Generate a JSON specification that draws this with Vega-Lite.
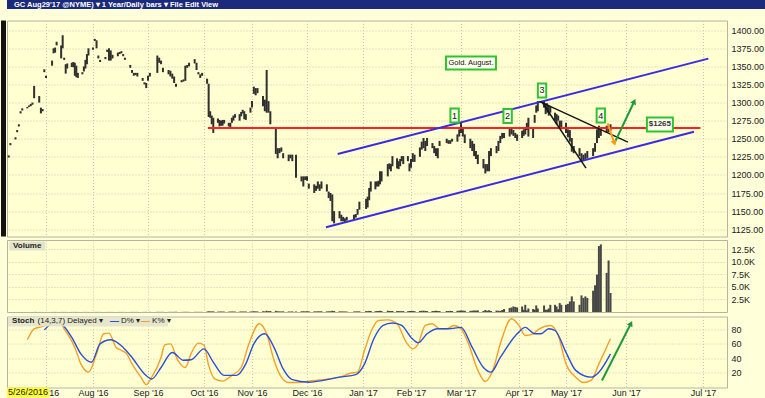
{
  "$schema": "https://vega.github.io/schema/vega-lite/v6.json",
  "background": "#FFFFDA",
  "padding": {"left": 0, "top": 0, "right": 0, "bottom": 0},
  "spacing": 10.5,
  "config": {
    "font": "Liberation Sans",
    "view": {"stroke": "#b5b59e", "fill": "#FFFFD2"},
    "axis": {"labelFont": "Liberation Sans", "labelFontSize": 9, "labelColor": "#1a1a1a", "gridColor": "#c8c8ae", "gridDash": [1, 2], "domain": false, "ticks": false, "title": null, "labelPadding": 4, "labelOverlap": false}
  },
  "datasets": {
    "px": [
      {"d":"2016-06-09","h":1227,"l":1224,"v":4},{"d":"2016-06-10","h":1244,"l":1241,"v":4},{"d":"2016-06-13","h":1252,"l":1249,"v":6},{"d":"2016-06-14","h":1262,"l":1259,"v":4},{"d":"2016-06-15","h":1270,"l":1267,"v":5},{"d":"2016-06-16","h":1288,"l":1285,"v":8},{"d":"2016-06-17","h":1292,"l":1289,"v":4},{"d":"2016-06-20","h":1294,"l":1292,"v":3},{"d":"2016-06-21","h":1296,"l":1294,"v":5},{"d":"2016-06-22","h":1298,"l":1295,"v":4},{"d":"2016-06-23","h":1300,"l":1297,"v":6},{"d":"2016-06-24","h":1323,"l":1306,"v":18},{"d":"2016-06-27","h":1309,"l":1300,"v":10},{"d":"2016-06-28","h":1293,"l":1285,"v":7},{"d":"2016-06-29","h":1291,"l":1288,"v":5},{"d":"2016-06-30","h":1346,"l":1342,"v":8},
      {"d":"2016-07-01","h":1337,"l":1334,"v":8},{"d":"2016-07-05","h":1358,"l":1351,"v":10},{"d":"2016-07-06","h":1375,"l":1368,"v":12},{"d":"2016-07-07","h":1376,"l":1369,"v":9},{"d":"2016-07-08","h":1384,"l":1379,"v":11},{"d":"2016-07-11","h":1379,"l":1361,"v":14},{"d":"2016-07-12","h":1393,"l":1375,"v":12},{"d":"2016-07-13","h":1362,"l":1359,"v":9},{"d":"2016-07-14","h":1353,"l":1340,"v":13},{"d":"2016-07-15","h":1354,"l":1347,"v":8},{"d":"2016-07-18","h":1355,"l":1349,"v":10},{"d":"2016-07-19","h":1356,"l":1349,"v":9},{"d":"2016-07-20","h":1355,"l":1337,"v":14},{"d":"2016-07-21","h":1351,"l":1335,"v":11},{"d":"2016-07-22","h":1341,"l":1334,"v":8},{"d":"2016-07-25","h":1342,"l":1339,"v":7},{"d":"2016-07-26","h":1350,"l":1343,"v":10},{"d":"2016-07-27","h":1359,"l":1347,"v":12},{"d":"2016-07-28","h":1367,"l":1353,"v":13},{"d":"2016-07-29","h":1375,"l":1365,"v":11},
      {"d":"2016-08-01","h":1376,"l":1373,"v":10},{"d":"2016-08-02","h":1388,"l":1385,"v":14},{"d":"2016-08-03","h":1386,"l":1375,"v":16},{"d":"2016-08-04","h":1365,"l":1361,"v":12},{"d":"2016-08-05","h":1359,"l":1356,"v":18},{"d":"2016-08-08","h":1363,"l":1360,"v":10},{"d":"2016-08-09","h":1373,"l":1370,"v":11},{"d":"2016-08-10","h":1375,"l":1358,"v":15},{"d":"2016-08-11","h":1372,"l":1358,"v":14},{"d":"2016-08-12","h":1366,"l":1361,"v":12},{"d":"2016-08-15","h":1369,"l":1364,"v":10},{"d":"2016-08-16","h":1370,"l":1367,"v":11},{"d":"2016-08-17","h":1371,"l":1368,"v":13},{"d":"2016-08-18","h":1367,"l":1364,"v":12},{"d":"2016-08-19","h":1362,"l":1359,"v":10},{"d":"2016-08-22","h":1352,"l":1348,"v":14},{"d":"2016-08-23","h":1345,"l":1341,"v":15},{"d":"2016-08-24","h":1341,"l":1337,"v":16},{"d":"2016-08-25","h":1341,"l":1338,"v":12},{"d":"2016-08-26","h":1341,"l":1336,"v":18},{"d":"2016-08-29","h":1334,"l":1330,"v":13},{"d":"2016-08-30","h":1328,"l":1325,"v":15},{"d":"2016-08-31","h":1327,"l":1320,"v":17},
      {"d":"2016-09-01","h":1337,"l":1330,"v":20},{"d":"2016-09-02","h":1341,"l":1336,"v":25},{"d":"2016-09-06","h":1365,"l":1341,"v":35},{"d":"2016-09-07","h":1362,"l":1355,"v":28},{"d":"2016-09-08","h":1358,"l":1353,"v":22},{"d":"2016-09-09","h":1348,"l":1342,"v":30},{"d":"2016-09-12","h":1345,"l":1339,"v":24},{"d":"2016-09-13","h":1344,"l":1336,"v":26},{"d":"2016-09-14","h":1340,"l":1333,"v":22},{"d":"2016-09-15","h":1336,"l":1327,"v":30},{"d":"2016-09-16","h":1326,"l":1322,"v":28},{"d":"2016-09-19","h":1331,"l":1328,"v":20},{"d":"2016-09-20","h":1332,"l":1329,"v":24},{"d":"2016-09-21","h":1351,"l":1330,"v":38},{"d":"2016-09-22","h":1352,"l":1348,"v":30},{"d":"2016-09-23","h":1355,"l":1350,"v":26},{"d":"2016-09-26","h":1360,"l":1354,"v":28},{"d":"2016-09-27","h":1355,"l":1345,"v":32},{"d":"2016-09-28","h":1342,"l":1339,"v":25},{"d":"2016-09-29","h":1339,"l":1334,"v":30},{"d":"2016-09-30","h":1341,"l":1337,"v":27},
      {"d":"2016-10-03","h":1333,"l":1326,"v":70},{"d":"2016-10-04","h":1326,"l":1280,"v":150},{"d":"2016-10-05","h":1288,"l":1279,"v":120},{"d":"2016-10-06","h":1282,"l":1270,"v":100},{"d":"2016-10-07","h":1279,"l":1258,"v":130},{"d":"2016-10-10","h":1278,"l":1272,"v":60},{"d":"2016-10-11","h":1276,"l":1267,"v":90},{"d":"2016-10-12","h":1275,"l":1268,"v":80},{"d":"2016-10-13","h":1276,"l":1268,"v":85},{"d":"2016-10-14","h":1276,"l":1271,"v":70},{"d":"2016-10-17","h":1272,"l":1267,"v":65},{"d":"2016-10-18","h":1272,"l":1266,"v":75},{"d":"2016-10-19","h":1279,"l":1272,"v":90},{"d":"2016-10-20","h":1282,"l":1275,"v":80},{"d":"2016-10-21","h":1284,"l":1279,"v":85},{"d":"2016-10-24","h":1284,"l":1275,"v":70},{"d":"2016-10-25","h":1287,"l":1281,"v":90},{"d":"2016-10-26","h":1290,"l":1285,"v":95},{"d":"2016-10-27","h":1288,"l":1277,"v":80},{"d":"2016-10-28","h":1284,"l":1276,"v":100},{"d":"2016-10-31","h":1293,"l":1286,"v":85},
      {"d":"2016-11-01","h":1302,"l":1293,"v":120},{"d":"2016-11-02","h":1322,"l":1312,"v":160},{"d":"2016-11-03","h":1320,"l":1310,"v":130},{"d":"2016-11-04","h":1320,"l":1313,"v":110},{"d":"2016-11-07","h":1309,"l":1295,"v":140},{"d":"2016-11-08","h":1304,"l":1288,"v":120},{"d":"2016-11-09","h":1345,"l":1286,"v":250},{"d":"2016-11-10","h":1302,"l":1286,"v":180},{"d":"2016-11-11","h":1288,"l":1270,"v":200},{"d":"2016-11-14","h":1265,"l":1229,"v":230},{"d":"2016-11-15","h":1237,"l":1223,"v":150},{"d":"2016-11-16","h":1237,"l":1230,"v":120},{"d":"2016-11-17","h":1238,"l":1232,"v":110},{"d":"2016-11-18","h":1230,"l":1223,"v":130},{"d":"2016-11-21","h":1228,"l":1219,"v":100},{"d":"2016-11-22","h":1228,"l":1223,"v":90},{"d":"2016-11-23","h":1228,"l":1219,"v":120},{"d":"2016-11-25","h":1228,"l":1196,"v":80},{"d":"2016-11-28","h":1198,"l":1191,"v":140},{"d":"2016-11-29","h":1198,"l":1184,"v":150},{"d":"2016-11-30","h":1198,"l":1193,"v":130},
      {"d":"2016-12-01","h":1198,"l":1192,"v":150},{"d":"2016-12-02","h":1188,"l":1181,"v":130},{"d":"2016-12-05","h":1187,"l":1175,"v":120},{"d":"2016-12-06","h":1185,"l":1178,"v":110},{"d":"2016-12-07","h":1191,"l":1181,"v":140},{"d":"2016-12-08","h":1187,"l":1178,"v":130},{"d":"2016-12-09","h":1191,"l":1181,"v":150},{"d":"2016-12-12","h":1187,"l":1177,"v":120},{"d":"2016-12-13","h":1177,"l":1168,"v":140},{"d":"2016-12-14","h":1175,"l":1164,"v":160},{"d":"2016-12-15","h":1173,"l":1136,"v":250},{"d":"2016-12-16","h":1150,"l":1133,"v":200},{"d":"2016-12-19","h":1150,"l":1140,"v":130},{"d":"2016-12-20","h":1145,"l":1136,"v":120},{"d":"2016-12-21","h":1142,"l":1136,"v":110},{"d":"2016-12-22","h":1140,"l":1135,"v":100},{"d":"2016-12-23","h":1142,"l":1137,"v":90},{"d":"2016-12-27","h":1145,"l":1139,"v":100},{"d":"2016-12-28","h":1146,"l":1141,"v":120},{"d":"2016-12-29","h":1153,"l":1145,"v":140},{"d":"2016-12-30","h":1163,"l":1152,"v":130},
      {"d":"2017-01-03","h":1167,"l":1153,"v":180},{"d":"2017-01-04","h":1170,"l":1155,"v":160},{"d":"2017-01-05","h":1182,"l":1165,"v":220},{"d":"2017-01-06","h":1191,"l":1177,"v":200},{"d":"2017-01-09","h":1191,"l":1180,"v":150},{"d":"2017-01-10","h":1191,"l":1184,"v":170},{"d":"2017-01-11","h":1192,"l":1184,"v":190},{"d":"2017-01-12","h":1205,"l":1187,"v":240},{"d":"2017-01-13","h":1205,"l":1191,"v":180},{"d":"2017-01-17","h":1215,"l":1198,"v":260},{"d":"2017-01-18","h":1216,"l":1208,"v":200},{"d":"2017-01-19","h":1215,"l":1205,"v":190},{"d":"2017-01-20","h":1226,"l":1212,"v":210},{"d":"2017-01-23","h":1223,"l":1209,"v":180},{"d":"2017-01-24","h":1219,"l":1208,"v":170},{"d":"2017-01-25","h":1222,"l":1212,"v":160},{"d":"2017-01-26","h":1226,"l":1219,"v":150},{"d":"2017-01-27","h":1226,"l":1215,"v":180},{"d":"2017-01-30","h":1226,"l":1219,"v":140},{"d":"2017-01-31","h":1216,"l":1205,"v":200},
      {"d":"2017-02-01","h":1222,"l":1210,"v":180},{"d":"2017-02-02","h":1230,"l":1218,"v":220},{"d":"2017-02-03","h":1228,"l":1218,"v":170},{"d":"2017-02-06","h":1238,"l":1225,"v":200},{"d":"2017-02-07","h":1246,"l":1235,"v":240},{"d":"2017-02-08","h":1251,"l":1237,"v":260},{"d":"2017-02-09","h":1247,"l":1233,"v":220},{"d":"2017-02-10","h":1251,"l":1240,"v":190},{"d":"2017-02-13","h":1244,"l":1237,"v":180},{"d":"2017-02-14","h":1240,"l":1230,"v":210},{"d":"2017-02-15","h":1237,"l":1226,"v":230},{"d":"2017-02-16","h":1237,"l":1223,"v":200},{"d":"2017-02-17","h":1247,"l":1240,"v":180},{"d":"2017-02-21","h":1250,"l":1244,"v":210},{"d":"2017-02-22","h":1248,"l":1243,"v":190},{"d":"2017-02-23","h":1248,"l":1243,"v":220},{"d":"2017-02-24","h":1250,"l":1246,"v":200},{"d":"2017-02-27","h":1256,"l":1246,"v":240},{"d":"2017-02-28","h":1263,"l":1253,"v":260},
      {"d":"2017-03-01","h":1272,"l":1258,"v":300},{"d":"2017-03-02","h":1265,"l":1253,"v":280},{"d":"2017-03-03","h":1256,"l":1244,"v":250},{"d":"2017-03-06","h":1250,"l":1237,"v":220},{"d":"2017-03-07","h":1247,"l":1233,"v":260},{"d":"2017-03-08","h":1243,"l":1226,"v":300},{"d":"2017-03-09","h":1233,"l":1222,"v":280},{"d":"2017-03-10","h":1228,"l":1215,"v":320},{"d":"2017-03-13","h":1222,"l":1209,"v":200},{"d":"2017-03-14","h":1215,"l":1202,"v":400},{"d":"2017-03-15","h":1215,"l":1205,"v":250},{"d":"2017-03-16","h":1233,"l":1205,"v":350},{"d":"2017-03-17","h":1237,"l":1226,"v":200},{"d":"2017-03-20","h":1240,"l":1230,"v":280},{"d":"2017-03-21","h":1247,"l":1233,"v":260},{"d":"2017-03-22","h":1254,"l":1244,"v":220},{"d":"2017-03-23","h":1258,"l":1250,"v":400},{"d":"2017-03-24","h":1258,"l":1251,"v":600},{"d":"2017-03-27","h":1265,"l":1253,"v":800},{"d":"2017-03-28","h":1265,"l":1256,"v":900},{"d":"2017-03-29","h":1262,"l":1254,"v":1100},{"d":"2017-03-30","h":1258,"l":1251,"v":1000},{"d":"2017-03-31","h":1256,"l":1247,"v":900},
      {"d":"2017-04-03","h":1261,"l":1251,"v":1100},{"d":"2017-04-04","h":1263,"l":1254,"v":430},{"d":"2017-04-05","h":1265,"l":1256,"v":1430},{"d":"2017-04-06","h":1272,"l":1262,"v":300},{"d":"2017-04-07","h":1279,"l":1253,"v":700},{"d":"2017-04-10","h":1265,"l":1251,"v":600},{"d":"2017-04-11","h":1283,"l":1272,"v":450},{"d":"2017-04-12","h":1296,"l":1286,"v":1300},{"d":"2017-04-13","h":1302,"l":1288,"v":700},{"d":"2017-04-17","h":1302,"l":1293,"v":1300},{"d":"2017-04-18","h":1299,"l":1284,"v":450},{"d":"2017-04-19","h":1299,"l":1286,"v":450},{"d":"2017-04-20","h":1296,"l":1282,"v":700},{"d":"2017-04-21","h":1294,"l":1286,"v":1430},{"d":"2017-04-24","h":1286,"l":1275,"v":1430},{"d":"2017-04-25","h":1284,"l":1270,"v":1100},{"d":"2017-04-26","h":1282,"l":1275,"v":550},{"d":"2017-04-27","h":1275,"l":1265,"v":1770},{"d":"2017-04-28","h":1275,"l":1263,"v":1430},
      {"d":"2017-05-01","h":1272,"l":1258,"v":1430},{"d":"2017-05-02","h":1263,"l":1252,"v":1600},{"d":"2017-05-03","h":1262,"l":1246,"v":2100},{"d":"2017-05-04","h":1251,"l":1232,"v":3100},{"d":"2017-05-05","h":1240,"l":1230,"v":2100},{"d":"2017-05-08","h":1237,"l":1226,"v":1430},{"d":"2017-05-09","h":1230,"l":1219,"v":3300},{"d":"2017-05-10","h":1228,"l":1219,"v":2800},{"d":"2017-05-11","h":1230,"l":1222,"v":3100},{"d":"2017-05-12","h":1233,"l":1223,"v":2800},{"d":"2017-05-15","h":1237,"l":1226,"v":4230},{"d":"2017-05-16","h":1244,"l":1232,"v":5300},{"d":"2017-05-17","h":1263,"l":1244,"v":7430},{"d":"2017-05-18","h":1268,"l":1251,"v":13100},{"d":"2017-05-19","h":1265,"l":1254,"v":13430},{"d":"2017-05-22","h":1268,"l":1258,"v":7770},{"d":"2017-05-23","h":1268,"l":1259,"v":10230},{"d":"2017-05-24","h":1270,"l":1261,"v":3770}
    ],
    "st": [
      {"d":"2016-06-20","s":"K","val":65.6},{"d":"2016-06-24","s":"K","val":81},{"d":"2016-06-30","s":"K","val":85},{"d":"2016-07-07","s":"K","val":96},{"d":"2016-07-13","s":"K","val":81},{"d":"2016-07-20","s":"K","val":55},{"d":"2016-07-24","s":"K","val":32},{"d":"2016-07-29","s":"K","val":20.5},{"d":"2016-08-03","s":"K","val":46},{"d":"2016-08-07","s":"K","val":74},{"d":"2016-08-10","s":"K","val":75},{"d":"2016-08-14","s":"K","val":55},{"d":"2016-08-17","s":"K","val":51},{"d":"2016-08-20","s":"K","val":46},{"d":"2016-08-23","s":"K","val":32},{"d":"2016-08-28","s":"K","val":13.5},{"d":"2016-08-31","s":"K","val":3},{"d":"2016-09-03","s":"K","val":13.5},{"d":"2016-09-08","s":"K","val":41},{"d":"2016-09-10","s":"K","val":58.6},{"d":"2016-09-13","s":"K","val":60},{"d":"2016-09-17","s":"K","val":37},{"d":"2016-09-21","s":"K","val":27},{"d":"2016-09-24","s":"K","val":46},{"d":"2016-09-28","s":"K","val":61},{"d":"2016-10-01","s":"K","val":58},{"d":"2016-10-04","s":"K","val":30},{"d":"2016-10-08","s":"K","val":11},{"d":"2016-10-13","s":"K","val":8},{"d":"2016-10-19","s":"K","val":16},{"d":"2016-10-25","s":"K","val":27},{"d":"2016-10-30","s":"K","val":60},{"d":"2016-11-05","s":"K","val":88},{"d":"2016-11-09","s":"K","val":74},{"d":"2016-11-13","s":"K","val":37},{"d":"2016-11-17","s":"K","val":13.5},{"d":"2016-11-21","s":"K","val":6},{"d":"2016-11-26","s":"K","val":6},{"d":"2016-12-02","s":"K","val":8},{"d":"2016-12-10","s":"K","val":10},{"d":"2016-12-19","s":"K","val":13.5},{"d":"2016-12-25","s":"K","val":19},{"d":"2016-12-29","s":"K","val":20.5},{"d":"2017-01-02","s":"K","val":51},{"d":"2017-01-07","s":"K","val":81},{"d":"2017-01-11","s":"K","val":92.5},{"d":"2017-01-17","s":"K","val":93.5},{"d":"2017-01-23","s":"K","val":88},{"d":"2017-01-29","s":"K","val":62},{"d":"2017-02-02","s":"K","val":53},{"d":"2017-02-05","s":"K","val":60},{"d":"2017-02-09","s":"K","val":85.6},{"d":"2017-02-13","s":"K","val":88},{"d":"2017-02-17","s":"K","val":81},{"d":"2017-02-21","s":"K","val":81},{"d":"2017-02-25","s":"K","val":85.6},{"d":"2017-03-01","s":"K","val":81},{"d":"2017-03-05","s":"K","val":60},{"d":"2017-03-10","s":"K","val":23},{"d":"2017-03-14","s":"K","val":7.4},{"d":"2017-03-18","s":"K","val":23},{"d":"2017-03-22","s":"K","val":60},{"d":"2017-03-28","s":"K","val":95},{"d":"2017-04-01","s":"K","val":85.6},{"d":"2017-04-05","s":"K","val":71.6},{"d":"2017-04-10","s":"K","val":74},{"d":"2017-04-14","s":"K","val":81},{"d":"2017-04-21","s":"K","val":85.6},{"d":"2017-04-26","s":"K","val":71.6},{"d":"2017-05-01","s":"K","val":32},{"d":"2017-05-06","s":"K","val":13.5},{"d":"2017-05-10","s":"K","val":6},{"d":"2017-05-14","s":"K","val":9},{"d":"2017-05-18","s":"K","val":32},{"d":"2017-05-24","s":"K","val":67},
      {"d":"2016-06-30","s":"D","val":79.5},{"d":"2016-07-07","s":"D","val":90},{"d":"2016-07-11","s":"D","val":88},{"d":"2016-07-18","s":"D","val":69},{"d":"2016-07-24","s":"D","val":46},{"d":"2016-07-31","s":"D","val":34.4},{"d":"2016-08-05","s":"D","val":60},{"d":"2016-08-11","s":"D","val":65.6},{"d":"2016-08-18","s":"D","val":55},{"d":"2016-08-23","s":"D","val":41},{"d":"2016-08-30","s":"D","val":18},{"d":"2016-09-03","s":"D","val":11},{"d":"2016-09-08","s":"D","val":27},{"d":"2016-09-14","s":"D","val":48},{"d":"2016-09-20","s":"D","val":37},{"d":"2016-09-24","s":"D","val":37.7},{"d":"2016-10-01","s":"D","val":53},{"d":"2016-10-07","s":"D","val":34.4},{"d":"2016-10-14","s":"D","val":16},{"d":"2016-10-22","s":"D","val":16},{"d":"2016-10-28","s":"D","val":32},{"d":"2016-11-02","s":"D","val":60},{"d":"2016-11-08","s":"D","val":74},{"d":"2016-11-13","s":"D","val":55},{"d":"2016-11-18","s":"D","val":25},{"d":"2016-11-23","s":"D","val":10},{"d":"2016-12-02","s":"D","val":6.5},{"d":"2016-12-10","s":"D","val":9},{"d":"2016-12-19","s":"D","val":13.5},{"d":"2016-12-28","s":"D","val":17},{"d":"2017-01-02","s":"D","val":32},{"d":"2017-01-08","s":"D","val":67},{"d":"2017-01-14","s":"D","val":85.6},{"d":"2017-01-20","s":"D","val":89},{"d":"2017-01-26","s":"D","val":85.6},{"d":"2017-02-01","s":"D","val":69},{"d":"2017-02-05","s":"D","val":61.4},{"d":"2017-02-10","s":"D","val":74},{"d":"2017-02-16","s":"D","val":81},{"d":"2017-02-22","s":"D","val":81},{"d":"2017-03-01","s":"D","val":83},{"d":"2017-03-07","s":"D","val":55},{"d":"2017-03-13","s":"D","val":27},{"d":"2017-03-17","s":"D","val":20.5},{"d":"2017-03-22","s":"D","val":41},{"d":"2017-03-31","s":"D","val":74},{"d":"2017-04-05","s":"D","val":83},{"d":"2017-04-11","s":"D","val":74},{"d":"2017-04-15","s":"D","val":74},{"d":"2017-04-20","s":"D","val":81},{"d":"2017-04-24","s":"D","val":78.6},{"d":"2017-05-01","s":"D","val":48},{"d":"2017-05-06","s":"D","val":23},{"d":"2017-05-14","s":"D","val":13.5},{"d":"2017-05-18","s":"D","val":20.5},{"d":"2017-05-24","s":"D","val":46}
    ],
    "seg": [
      {"g":"red","d":"2016-10-03T12:00Z","p":1265},{"g":"red","d":"2017-06-30T00:00Z","p":1265},
      {"g":"up","d":"2016-12-18T00:00Z","p":1228.8},{"g":"up","d":"2017-07-03T00:00Z","p":1360.7},
      {"g":"lo","d":"2016-12-11T12:00Z","p":1127.8},{"g":"lo","d":"2017-06-27T12:00Z","p":1259.7},
      {"g":"or","d":"2017-05-22T12:00Z","p":1271.4},{"g":"or","d":"2017-05-26T00:00Z","p":1243.8},
      {"g":"gr","d":"2017-05-26T00:00Z","p":1243.8},{"g":"gr","d":"2017-06-04T05:00Z","p":1301.5},
      {"g":"b1","d":"2017-04-14T00:00Z","p":1301.7},{"g":"b1","d":"2017-06-01T18:00Z","p":1245.4},
      {"g":"b2","d":"2017-04-15T17:00Z","p":1300.8},{"g":"b2","d":"2017-05-11T08:00Z","p":1209.3}
    ],
    "box": [
      {"k":"n","d":"2017-02-25T10:00Z","p":1282.1,"t":"1"},
      {"k":"n","d":"2017-03-25T22:00Z","p":1281.4,"t":"2"},
      {"k":"n","d":"2017-04-15T17:00Z","p":1316.7,"t":"3"},
      {"k":"n","d":"2017-05-19T00:00Z","p":1282.1,"t":"4"},
      {"k":"g","d":"2017-03-06T08:00Z","p":1354.7,"t":"Gold. August."},
      {"k":"p","d":"2017-06-14T05:00Z","p":1269.7,"t":"$1265"}
    ],
    "sarrow": [
      {"d":"2017-05-19T14:00Z","val":8.9},{"d":"2017-06-02T22:00Z","val":88.4}
    ],
    "leg": [
      {"d":"2016-06-11T00:00Z","val":91.4,"t":"Stoch","c":"t"},
      {"d":"2016-06-26T00:00Z","val":91.4,"t":"(14,3,7) Delayed ▾","c":"x"},
      {"d":"2016-08-10T14:00Z","val":91.4,"t":"—","c":"D"},
      {"d":"2016-08-16T19:00Z","val":91.4,"t":"D% ▾","c":"x"},
      {"d":"2016-08-28T00:00Z","val":91.4,"t":"—","c":"K"},
      {"d":"2016-09-03T05:00Z","val":91.4,"t":"K% ▾","c":"x"}
    ]
  },
  "vconcat": [
    {
      "width": 759,
      "height": 9,
      "view": {"fill": "#1c2a7c", "stroke": null},
      "data": {"values": [{"t": "GC Aug29'17 @NYME) ▾  1 Year/Daily bars ▾  File  Edit  View"}]},
      "mark": {"type": "text", "align": "left", "baseline": "middle", "color": "#ffffff", "fontWeight": "bold", "fontSize": 7.5, "dx": 7},
      "encoding": {
        "text": {"field": "t"},
        "x": {"datum": 0, "type": "quantitative", "scale": {"domain": [0, 1]}, "axis": null}
      }
    },
    {
      "spacing": 1.5,
      "vconcat": [
        {
          "width": 720,
          "height": 216,
          "encoding": {
            "x": {"field": "d", "type": "quantitative",
              "scale": {"nice": false, "zero": false,
                "domain": [1465344000000, 1467331200000, 1470009600000, 1472688000000, 1475280000000, 1477958400000, 1480550400000, 1483228800000, 1485907200000, 1488326400000, 1491004800000, 1493596800000, 1496275200000, 1498867200000, 1499644800000],
                "range": [0, 39, 86, 141, 197, 245, 300, 356, 404, 454, 512, 559, 619, 696, 720]},
              "axis": {"values": [1467331200000, 1470009600000, 1472688000000, 1475280000000, 1477958400000, 1480550400000, 1483228800000, 1485907200000, 1488326400000, 1491004800000, 1493596800000, 1496275200000, 1498867200000], "tickCount": 30, "labels": false, "grid": true, "minExtent": 0, "maxExtent": 0}}
          },
          "layer": [
            {
              "data": {"name": "px", "format": {"parse": {"d": "date"}}},
              "mark": {"type": "rule", "strokeWidth": 2, "color": "#303030"},
              "encoding": {
                "y": {"field": "l", "type": "quantitative", "scale": {"domain": [1114.9, 1413.4], "nice": false, "zero": false},
                  "axis": {"orient": "right", "values": [1125, 1150, 1175, 1200, 1225, 1250, 1275, 1300, 1325, 1350, 1375, 1400], "tickCount": 30, "format": ".2f", "grid": true}},
                "y2": {"field": "h"}
              }
            },
            {
              "data": {"name": "seg", "format": {"parse": {"d": "date"}}},
              "transform": [{"filter": "datum.g == 'red'"}],
              "mark": {"type": "line", "strokeWidth": 2, "color": "#ff2020"},
              "encoding": {"y": {"field": "p", "type": "quantitative"}}
            },
            {
              "data": {"name": "seg", "format": {"parse": {"d": "date"}}},
              "transform": [{"filter": "datum.g == 'up' || datum.g == 'lo'"}],
              "mark": {"type": "line", "strokeWidth": 2, "color": "#3a2ae6"},
              "encoding": {"y": {"field": "p", "type": "quantitative"}, "detail": {"field": "g"}}
            },
            {
              "data": {"name": "seg", "format": {"parse": {"d": "date"}}},
              "transform": [{"filter": "datum.g == 'b1' || datum.g == 'b2'"}],
              "mark": {"type": "line", "strokeWidth": 1.5, "color": "#151515"},
              "encoding": {"y": {"field": "p", "type": "quantitative"}, "detail": {"field": "g"}}
            },
            {
              "data": {"name": "seg", "format": {"parse": {"d": "date"}}},
              "transform": [{"filter": "datum.g == 'or'"}],
              "mark": {"type": "line", "strokeWidth": 2, "color": "#ff9a10"},
              "encoding": {"y": {"field": "p", "type": "quantitative"}}
            },
            {
              "data": {"name": "seg", "format": {"parse": {"d": "date"}}},
              "transform": [{"filter": "datum.g == 'gr'"}],
              "mark": {"type": "line", "strokeWidth": 2, "color": "#1e9a3c"},
              "encoding": {"y": {"field": "p", "type": "quantitative"}}
            },
            {
              "data": {"values": [{"d": "2017-05-26T00:00Z", "p": 1243.8}], "format": {"parse": {"d": "date"}}},
              "mark": {"type": "point", "shape": "triangle-up", "filled": true, "size": 40, "angle": 162, "opacity": 1, "color": "#ff9a10"},
              "encoding": {"y": {"field": "p", "type": "quantitative"}}
            },
            {
              "data": {"values": [{"d": "2017-06-04T05:00Z", "p": 1301.5}], "format": {"parse": {"d": "date"}}},
              "mark": {"type": "point", "shape": "triangle-up", "filled": true, "size": 40, "angle": 26, "opacity": 1, "color": "#1e9a3c"},
              "encoding": {"y": {"field": "p", "type": "quantitative"}}
            },
            {
              "data": {"name": "box", "format": {"parse": {"d": "date"}}},
              "transform": [{"filter": "datum.k == 'n'"}],
              "mark": {"type": "point", "filled": true, "fill": "#FFFFEE", "stroke": "#2fc42f", "strokeWidth": 2, "opacity": 1, "shape": "M-0.6,-1H0.6V1H-0.6Z", "size": 196},
              "encoding": {"y": {"field": "p", "type": "quantitative"}}
            },
            {
              "data": {"name": "box", "format": {"parse": {"d": "date"}}},
              "transform": [{"filter": "datum.k == 'g'"}],
              "mark": {"type": "point", "filled": true, "fill": "#FFFFEE", "stroke": "#2fc42f", "strokeWidth": 2, "opacity": 1, "shape": "M-1,-0.26H1V0.26H-1Z", "size": 2500},
              "encoding": {"y": {"field": "p", "type": "quantitative"}}
            },
            {
              "data": {"name": "box", "format": {"parse": {"d": "date"}}},
              "transform": [{"filter": "datum.k == 'p'"}],
              "mark": {"type": "point", "filled": true, "fill": "#FFFFEE", "stroke": "#2fc42f", "strokeWidth": 2, "opacity": 1, "shape": "M-1,-0.54H1V0.54H-1Z", "size": 676},
              "encoding": {"y": {"field": "p", "type": "quantitative"}}
            },
            {
              "data": {"name": "box", "format": {"parse": {"d": "date"}}},
              "transform": [{"filter": "datum.k == 'n'"}],
              "mark": {"type": "text", "fontSize": 9, "color": "#111111", "baseline": "middle"},
              "encoding": {"y": {"field": "p", "type": "quantitative"}, "text": {"field": "t"}}
            },
            {
              "data": {"name": "box", "format": {"parse": {"d": "date"}}},
              "transform": [{"filter": "datum.k == 'g'"}],
              "mark": {"type": "text", "fontSize": 7.5, "color": "#111111", "baseline": "middle"},
              "encoding": {"y": {"field": "p", "type": "quantitative"}, "text": {"field": "t"}}
            },
            {
              "data": {"name": "box", "format": {"parse": {"d": "date"}}},
              "transform": [{"filter": "datum.k == 'p'"}],
              "mark": {"type": "text", "fontSize": 8, "fontWeight": "bold", "color": "#333333", "baseline": "middle"},
              "encoding": {"y": {"field": "p", "type": "quantitative"}, "text": {"field": "t"}}
            },
            {
              "data": {"values": [{"d": "2016-06-08"}], "format": {"parse": {"d": "date"}}},
              "mark": {"type": "rect", "color": "#121212", "xOffset": -6, "x2Offset": -1},
              "encoding": {"x2": {"field": "d"}}
            }
          ]
        },
        {
          "width": 720,
          "height": 72,
          "encoding": {
            "x": {"field": "d", "type": "quantitative",
              "scale": {"nice": false, "zero": false,
                "domain": [1465344000000, 1467331200000, 1470009600000, 1472688000000, 1475280000000, 1477958400000, 1480550400000, 1483228800000, 1485907200000, 1488326400000, 1491004800000, 1493596800000, 1496275200000, 1498867200000, 1499644800000],
                "range": [0, 39, 86, 141, 197, 245, 300, 356, 404, 454, 512, 559, 619, 696, 720]},
              "axis": {"values": [1467331200000, 1470009600000, 1472688000000, 1475280000000, 1477958400000, 1480550400000, 1483228800000, 1485907200000, 1488326400000, 1491004800000, 1493596800000, 1496275200000, 1498867200000], "tickCount": 30, "labels": false, "grid": true, "minExtent": 0, "maxExtent": 0}}
          },
          "layer": [
            {
              "data": {"name": "px", "format": {"parse": {"d": "date"}}},
              "mark": {"type": "bar", "width": 2, "color": "#474747"},
              "encoding": {
                "y": {"field": "v", "type": "quantitative", "scale": {"domain": [0, 14300], "nice": false},
                  "axis": {"orient": "right", "values": [2500, 5000, 7500, 10000, 12500], "tickCount": 30, "labelExpr": "format(datum.value / 1000, '.1f') + 'K'", "grid": true}}
              }
            },
            {
              "data": {"values": [{"d": "2016-06-18T14:00Z", "v": 13108, "t": "Volume"}], "format": {"parse": {"d": "date"}}},
              "mark": {"type": "point", "filled": true, "fill": "#e3e3cb", "strokeWidth": 0, "opacity": 1, "shape": "M-1,-0.25H1V0.25H-1Z", "size": 1296},
              "encoding": {"y": {"field": "v", "type": "quantitative"}}
            },
            {
              "data": {"values": [{"d": "2016-06-18T14:00Z", "v": 13108, "t": "Volume"}], "format": {"parse": {"d": "date"}}},
              "mark": {"type": "text", "fontSize": 8, "fontWeight": "bold", "color": "#222222", "baseline": "middle"},
              "encoding": {"y": {"field": "v", "type": "quantitative"}, "text": {"field": "t"}}
            }
          ]
        },
        {
          "width": 720,
          "height": 71,
          "encoding": {
            "x": {"field": "d", "type": "quantitative",
              "scale": {"nice": false, "zero": false,
                "domain": [1465344000000, 1467331200000, 1470009600000, 1472688000000, 1475280000000, 1477958400000, 1480550400000, 1483228800000, 1485907200000, 1488326400000, 1491004800000, 1493596800000, 1496275200000, 1498867200000, 1499644800000],
                "range": [0, 39, 86, 141, 197, 245, 300, 356, 404, 454, 512, 559, 619, 696, 720]},
              "axis": {"values": [1467331200000, 1470009600000, 1472688000000, 1475280000000, 1477958400000, 1480550400000, 1483228800000, 1485907200000, 1488326400000, 1491004800000, 1493596800000, 1496275200000, 1498867200000], "tickCount": 30, "labelExpr": "utcFormat(datum.value, \"%b '%y\")", "grid": true, "labelPadding": 1, "labelFlush": false, "labelBound": false}}
          },
          "layer": [
            {
              "data": {"name": "st", "format": {"parse": {"d": "date"}}},
              "transform": [{"filter": "datum.s == 'K'"}],
              "mark": {"type": "line", "color": "#f59f2a", "strokeWidth": 1.4, "interpolate": "monotone"},
              "encoding": {
                "y": {"field": "val", "type": "quantitative", "scale": {"domain": [-0.93, 98.14], "nice": false, "zero": false},
                  "axis": {"orient": "right", "values": [20, 40, 60, 80], "tickCount": 30, "grid": true}}
              }
            },
            {
              "data": {"name": "st", "format": {"parse": {"d": "date"}}},
              "transform": [{"filter": "datum.s == 'D'"}],
              "mark": {"type": "line", "color": "#2a4fd6", "strokeWidth": 1.4, "interpolate": "monotone"},
              "encoding": {"y": {"field": "val", "type": "quantitative"}}
            },
            {
              "data": {"name": "sarrow", "format": {"parse": {"d": "date"}}},
              "mark": {"type": "line", "color": "#1e9a3c", "strokeWidth": 2},
              "encoding": {"y": {"field": "val", "type": "quantitative"}}
            },
            {
              "data": {"values": [{"d": "2017-06-02T22:00Z", "val": 88.4}], "format": {"parse": {"d": "date"}}},
              "mark": {"type": "point", "shape": "triangle-up", "filled": true, "size": 40, "angle": 27, "opacity": 1, "color": "#1e9a3c"},
              "encoding": {"y": {"field": "val", "type": "quantitative"}}
            },
            {
              "data": {"values": [{"d": "2016-07-28T17:00Z", "val": 91.2}], "format": {"parse": {"d": "date"}}},
              "mark": {"type": "point", "filled": true, "fill": "#e3e3cb", "strokeWidth": 0, "opacity": 0.9, "shape": "M-1,-0.0625H1V0.0625H-1Z", "size": 25600},
              "encoding": {"y": {"field": "val", "type": "quantitative"}}
            },
            {
              "data": {"name": "leg", "format": {"parse": {"d": "date"}}},
              "transform": [{"filter": "datum.c == 't'"}],
              "mark": {"type": "text", "fontSize": 8, "fontWeight": "bold", "color": "#222222", "align": "left", "baseline": "middle"},
              "encoding": {"y": {"field": "val", "type": "quantitative"}, "text": {"field": "t"}}
            },
            {
              "data": {"name": "leg", "format": {"parse": {"d": "date"}}},
              "transform": [{"filter": "datum.c == 'x'"}],
              "mark": {"type": "text", "fontSize": 8, "color": "#222222", "align": "left", "baseline": "middle"},
              "encoding": {"y": {"field": "val", "type": "quantitative"}, "text": {"field": "t"}}
            },
            {
              "data": {"name": "leg", "format": {"parse": {"d": "date"}}},
              "transform": [{"filter": "datum.c == 'D'"}],
              "mark": {"type": "text", "fontSize": 9, "fontWeight": "bold", "color": "#2a4fd6", "align": "left", "baseline": "middle"},
              "encoding": {"y": {"field": "val", "type": "quantitative"}, "text": {"field": "t"}}
            },
            {
              "data": {"name": "leg", "format": {"parse": {"d": "date"}}},
              "transform": [{"filter": "datum.c == 'K'"}],
              "mark": {"type": "text", "fontSize": 9, "fontWeight": "bold", "color": "#f59f2a", "align": "left", "baseline": "middle"},
              "encoding": {"y": {"field": "val", "type": "quantitative"}, "text": {"field": "t"}}
            },
            {
              "data": {"values": [{"d": "2016-06-20T10:00Z", "val": -7.9, "t": "5/26/2016"}], "format": {"parse": {"d": "date"}}},
              "mark": {"type": "point", "filled": true, "fill": "#ffff33", "strokeWidth": 0, "opacity": 1, "shape": "M-1,-0.238H1V0.238H-1Z", "size": 1764},
              "encoding": {"y": {"field": "val", "type": "quantitative"}}
            },
            {
              "data": {"values": [{"d": "2016-06-20T10:00Z", "val": -7.9, "t": "5/26/2016"}], "format": {"parse": {"d": "date"}}},
              "mark": {"type": "text", "fontSize": 9, "color": "#222222", "baseline": "middle"},
              "encoding": {"y": {"field": "val", "type": "quantitative"}, "text": {"field": "t"}}
            }
          ]
        }
      ]
    }
  ]
}
